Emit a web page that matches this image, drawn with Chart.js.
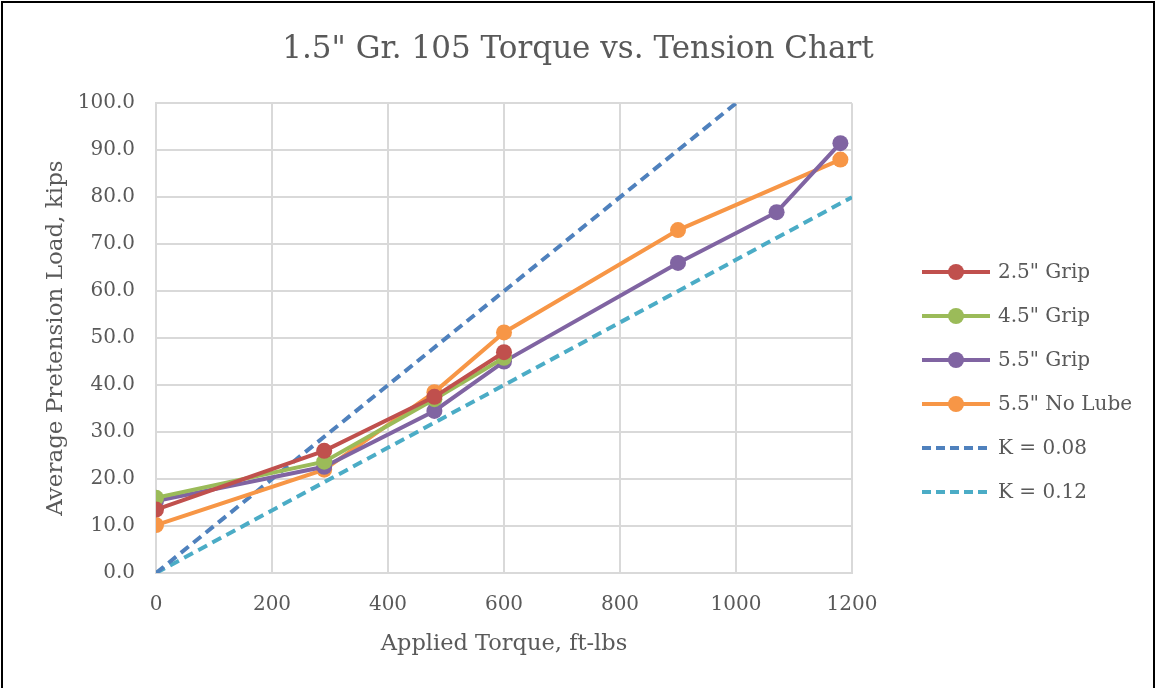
<!DOCTYPE html>
<html>
<head>
<meta charset="utf-8">
<script src="https://cdn.jsdelivr.net/npm/chart.js@4"></script>
<style>
  html, body { margin: 0; padding: 0; background: #fff; }
  #chart { position: absolute; left: 0; top: 0; display: block; }
  #frame { position: absolute; left: 1px; top: 1px; width: 1154px; height: 700px; border: 2px solid #000; box-sizing: border-box; pointer-events: none; }
</style>
</head>
<body>
<canvas id="chart" width="1156" height="688"></canvas>
<div id="frame"></div>
<script>
// torque readings, ft-lbs
const torque4 = [0, 290, 480, 600];
const torque7 = [0, 290, 480, 600, 900, 1070, 1180];
const torqueNoLube = [0, 290, 480, 600, 900, 1180];
// pretension load, kips
const grip25 = [13.5, 26.0, 37.5, 47.0];
const grip45 = [16.0, 23.7, 37.0, 45.8];
const grip55 = [15.3, 22.6, 34.5, 45.0, 66.0, 76.8, 91.5];
const noLube55 = [10.2, 22.0, 38.5, 51.2, 73.0, 88.0];
// theoretical K lines
const k08x = [0, 1000];
const k08y = [0, 100];
const k12x = [0, 1200];
const k12y = [0, 80];

const labelColor = "#595959";
const gridColor = "#d9d9d9";
const fontFamily = "'DejaVu Serif', 'Liberation Serif', serif";
const markerSize = 8;

function pts(xs, ys) {
    return xs.map((x, i) => ({x: x, y: ys[i]}));
}

function series(label, xs, ys, color) {
    return {
        label: label,
        data: pts(xs, ys),
        borderColor: color,
        backgroundColor: color,
        borderWidth: 4,
        pointRadius: markerSize,
        pointHoverRadius: markerSize,
        pointBorderWidth: 0
    };
}

function kLine(label, xs, ys, color) {
    return {
        label: label,
        data: pts(xs, ys),
        borderColor: color,
        backgroundColor: color,
        borderWidth: 4,
        borderDash: [10, 6],
        pointRadius: 0
    };
}

// excel style legend (line with marker in the middle) drawn to the right of the plot
const sideLegend = {
    id: "sideLegend",
    afterDraw(chart) {
        const ctx = chart.ctx;
        const sets = chart.data.datasets;
        const left = chart.chartArea.right + 70; // gap between plot and legend
        const lineLen = 68;
        const rowGap = 44;
        const firstRow = chart.height / 2 + 38 - rowGap * (sets.length - 1) / 2;
        ctx.save();
        ctx.font = "20px " + fontFamily;
        ctx.textBaseline = "middle";
        sets.forEach((ds, i) => {
            const y = firstRow + i * rowGap;
            ctx.strokeStyle = ds.borderColor;
            ctx.lineWidth = 4;
            ctx.setLineDash(ds.borderDash ? [9, 5] : []);
            ctx.beginPath();
            ctx.moveTo(left, y);
            ctx.lineTo(left + lineLen, y);
            ctx.stroke();
            ctx.setLineDash([]);
            if (ds.pointRadius) {
                ctx.fillStyle = ds.backgroundColor;
                ctx.beginPath();
                ctx.arc(left + lineLen / 2, y, markerSize, 0, Math.PI * 2);
                ctx.fill();
            }
            ctx.fillStyle = labelColor;
            ctx.fillText(ds.label, left + lineLen + 8, y + 1);
        });
        ctx.restore();
    }
};

new Chart("chart", {
    type: "line",
    data: {
        datasets: [
            series("2.5\" Grip", torque4, grip25, "#C0504D"),
            series("4.5\" Grip", torque4, grip45, "#9BBB59"),
            series("5.5\" Grip", torque7, grip55, "#8064A2"),
            series("5.5\" No Lube", torqueNoLube, noLube55, "#F79646"),
            kLine("K = 0.08", k08x, k08y, "#4F81BD"),
            kLine("K = 0.12", k12x, k12y, "#4BACC6")
        ]
    },
    options: {
        responsive: false,
        animation: false,
        // equal side padding keeps the title centred on the whole picture
        layout: { padding: { left: 42, right: 42, top: 0, bottom: 30 } },
        plugins: {
            title: {
                display: true,
                text: "1.5\" Gr. 105 Torque vs. Tension Chart",
                color: labelColor,
                font: { family: fontFamily, size: 31, weight: "normal" },
                padding: { top: 31, bottom: 35 }
            },
            legend: { display: false },
            tooltip: { enabled: false }
        },
        scales: {
            x: {
                type: "linear",
                min: 0,
                max: 1200,
                afterFit: (scale) => { scale.height = 85; },
                ticks: { stepSize: 200, color: labelColor, font: { family: fontFamily, size: 20 }, padding: 20,
                    callback: (v) => String(v) },
                grid: { color: gridColor, lineWidth: 2, drawTicks: false },
                border: { color: gridColor, width: 2 },
                title: { display: true, text: "Applied Torque, ft-lbs", color: labelColor, font: { family: fontFamily, size: 22.5 }, padding: { top: 13, bottom: 0 } }
            },
            y: {
                min: 0,
                max: 100,
                afterFit: (scale) => { scale.width = 114; },
                ticks: { stepSize: 10, color: labelColor, font: { family: fontFamily, size: 20 }, padding: 21,
                    callback: (v) => v.toFixed(1) },
                grid: { color: gridColor, lineWidth: 2, drawTicks: false },
                border: { color: gridColor, width: 2 },
                title: { display: true, text: "Average Pretension Load, kips", color: labelColor, font: { family: fontFamily, size: 23 }, padding: { top: 0, bottom: 10 } }
            },
            // empty axis that only reserves the room for the legend on the right
            legendSpace: {
                position: "right",
                min: 0,
                max: 1,
                afterFit: (scale) => { scale.width = 262; },
                ticks: { display: false },
                grid: { display: false },
                border: { display: false }
            }
        }
    },
    plugins: [sideLegend]
});
</script>
</body>
</html>
